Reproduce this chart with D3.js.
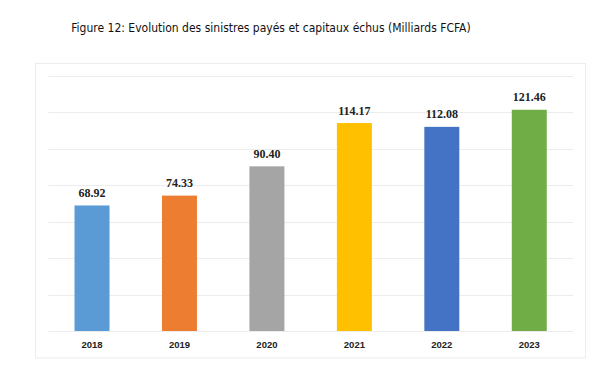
<!DOCTYPE html>
<html lang="fr">
  <head>
    <meta charset="UTF-8" />
    <script src="https://d3js.org/d3.v7.min.js"></script>
    <title>Sinistres payés</title>
    <style type="text/css">
      body {
        margin: 0;
        background: #fff;
      }
      .title {
        font-family: 'DejaVu Sans Condensed', 'DejaVu Sans', sans-serif;
        font-size: 12px;
        fill: #111;
      }
      .value-label {
        font-family: 'Liberation Serif', serif;
        font-weight: bold;
        font-size: 12px;
        fill: #222;
      }
      .x-axis text {
        font-family: 'Liberation Sans', sans-serif;
        font-weight: bold;
        font-size: 9.5px;
        fill: #222;
      }
    </style>
  </head>
  <body>
    <svg width="600" height="372"></svg>
  </body>
  <script type="text/javascript">
    // data
    const years = ['2018', '2019', '2020', '2021', '2022', '2023'];
    const amounts = [68.92, 74.33, 90.4, 114.17, 112.08, 121.46];
    const barColors = ['#5B9BD5', '#ED7D31', '#A5A5A5', '#FFC000', '#4472C4', '#70AD47'];
    const yTicks = [0, 20, 40, 60, 80, 100, 120, 140];

    const svg = d3.select('svg');

    // chart frame
    svg
      .append('rect')
      .attr('x', 35.5)
      .attr('y', 63.5)
      .attr('width', 550)
      .attr('height', 294.5)
      .attr('fill', '#fff')
      .attr('stroke', '#ececec');

    svg
      .append('text')
      .attr('class', 'title')
      .attr('x', 271)
      .attr('y', 32)
      .attr('text-anchor', 'middle')
      .text('Figure 12: Evolution des sinistres payés et capitaux échus (Milliards FCFA)');

    const plotLeft = 48.3;
    const plotRight = 573;
    const plotTop = 76;
    const plotBottom = 331;

    const xScale = d3.scaleBand().domain(years).range([plotLeft, plotRight]).paddingInner(0.6).paddingOuter(0.3);
    const yScale = d3.scaleLinear().domain([0, 140]).range([plotBottom, plotTop]);

    // grid lines
    svg
      .append('g')
      .selectAll('line')
      .data(yTicks)
      .enter()
      .append('line')
      .attr('x1', plotLeft)
      .attr('x2', plotRight)
      .attr('y1', (d) => Math.round(yScale(d)) + 0.5)
      .attr('y2', (d) => Math.round(yScale(d)) + 0.5)
      .attr('stroke', '#ececec');

    // bars
    svg
      .append('g')
      .selectAll('rect')
      .data(amounts)
      .enter()
      .append('rect')
      .attr('x', (d, i) => xScale(years[i]))
      .attr('y', (d) => yScale(d))
      .attr('width', xScale.bandwidth())
      .attr('height', (d) => yScale(0) - yScale(d))
      .attr('fill', (d, i) => barColors[i]);

    // value labels
    svg
      .append('g')
      .selectAll('text')
      .data(amounts)
      .enter()
      .append('text')
      .attr('class', 'value-label')
      .attr('x', (d, i) => xScale(years[i]) + xScale.bandwidth() / 2)
      .attr('y', (d) => yScale(d) - 8.5)
      .attr('text-anchor', 'middle')
      .text((d) => d.toFixed(2));

    // x axis labels
    const xAxis = svg
      .append('g')
      .attr('class', 'x-axis')
      .attr('transform', `translate(0, ${plotBottom})`)
      .call(d3.axisBottom(xScale).tickSize(0).tickPadding(10));
    xAxis.select('.domain').remove();
  </script>
</html>
